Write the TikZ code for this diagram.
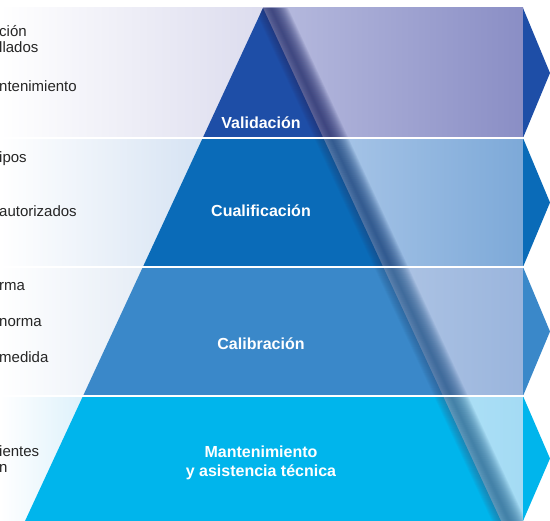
\documentclass[tikz,border=0pt]{standalone}
\usepackage{fontspec}
\setmainfont{Liberation Sans}

% band colours: pyramid, pale (near / far), left tint, fold shadow
\definecolor{valblue}{HTML}{1E4EA7}
\definecolor{valpale}{HTML}{B8BCDF}
\definecolor{valpaledk}{HTML}{8A8EC5}
\definecolor{valtint}{HTML}{DCDCEE}
\definecolor{valshadow}{HTML}{27306E}
\definecolor{cualblue}{HTML}{0A6BB8}
\definecolor{cualpale}{HTML}{A9C6E8}
\definecolor{cualpaledk}{HTML}{7DA9D8}
\definecolor{cualtint}{HTML}{D6E3F3}
\definecolor{cualshadow}{HTML}{1C467F}
\definecolor{calblue}{HTML}{3A88C9}
\definecolor{calpale}{HTML}{AEC4E4}
\definecolor{calpaledk}{HTML}{9AB5DD}
\definecolor{caltint}{HTML}{E6EDF6}
\definecolor{calshadow}{HTML}{2A5A8E}
\definecolor{mantblue}{HTML}{00B5EC}
\definecolor{mantpale}{HTML}{AEE0F6}
\definecolor{mantpaledk}{HTML}{A4DBF4}
\definecolor{manttint}{HTML}{DDF1FB}
\definecolor{mantshadow}{HTML}{2E6E98}

\tikzset{
  sidetext/.style={
    anchor=base west,
    inner sep=0pt,
    text=black!85,
    font=\fontsize{15}{18}\selectfont},
  steplabel/.style={
    inner sep=0pt,
    text=white,
    align=center,
    font=\bfseries\fontsize{16}{19}\selectfont},
  sepline/.style={draw=white, line width=1.4pt},
}

\begin{document}
\begin{tikzpicture}[x=1pt, y=-1pt]
  \useasboundingbox (0,0) rectangle (550,521);
  \fill[white] (0,0) rectangle (550,521);
  % the four bands of the pyramid
  \foreach \ytop/\ybot/\base/\pale/\paledk/\tint/\shadow in {
      8/138/valblue/valpale/valpaledk/valtint/valshadow,
      138/267/cualblue/cualpale/cualpaledk/cualtint/cualshadow,
      267/396/calblue/calpale/calpaledk/caltint/calshadow,
      396/521/mantblue/mantpale/mantpaledk/manttint/mantshadow}{
    \pgfmathsetmacro\xlt{263-0.4639*(\ytop-8)}
    \pgfmathsetmacro\xrt{263+0.4639*(\ytop-8)}
    \pgfmathsetmacro\xlb{263-0.4639*(\ybot-8)}
    \pgfmathsetmacro\xrb{263+0.4639*(\ybot-8)}
    \pgfmathsetmacro\ymid{(\ytop+\ybot)/2}
    \shade[left color=white, right color=\tint] (0,\ytop) rectangle (\xlt,\ybot);
    \shade[left color=\pale, right color=\paledk] (\xrt,\ytop) rectangle (523,\ybot);
    \fill[\base] (\xlt,\ytop) -- (\xrt,\ytop) -- (\xrb,\ybot) -- (\xlb,\ybot) -- cycle;
    % fold shadow along the right edge, nested soft strips
    \begin{scope}
      \clip (\xlt,\ytop) -- (523,\ytop) -- (523,\ybot) -- (\xlb,\ybot) -- cycle;
      \foreach \w in {1,...,17}{
        \fill[\shadow, opacity=0.085]
          (271-\w,8) -- (271+\w,8) -- (509+\w,521) -- (509-\w,521) -- cycle;
      }
    \end{scope}
    % chevron
    \fill[\base] (523,\ytop) -- (550,\ymid) -- (523,\ybot) -- cycle;
  }
  \draw[sepline] (0,138) -- (550,138);
  \draw[sepline] (0,267) -- (550,267);
  \draw[sepline] (0,396) -- (550,396);

  % labels
  \node[steplabel, anchor=base] (validacion) at (261,129) {Validación};
  \node[steplabel, anchor=base] (cualificacion) at (261,217) {Cualificación};
  \node[steplabel, anchor=base] (calibracion) at (261,350) {Calibración};
  \node[steplabel] (mantenimiento) at (261,463) {Mantenimiento\\y asistencia técnica};

  % cut text on the left
  \node[sidetext] (valtxta) at (-1,37) {ción};
  \node[sidetext] (valtxtb) at (-1,53) {llados};
  \node[sidetext] (valtxtc) at (-1,92) {ntenimiento};
  \node[sidetext] (cualtxta) at (-1,163) {ipos};
  \node[sidetext] (cualtxtb) at (-1,217) {autorizados};
  \node[sidetext] (caltxta) at (-1,291) {rma};
  \node[sidetext] (caltxtb) at (-1,327) {norma};
  \node[sidetext] (caltxtc) at (-1,363) {medida};
  \node[sidetext] (manttxta) at (-1,457) {ientes};
  \node[sidetext] (manttxtb) at (-1,473) {n};
\end{tikzpicture}
\end{document}
